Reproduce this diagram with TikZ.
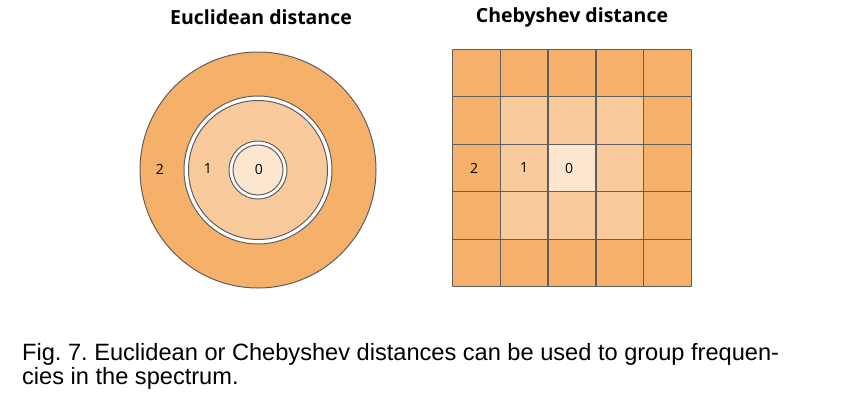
\documentclass[tikz,border=0pt]{standalone}
\usepackage{fontspec}
\setmainfont{Liberation Sans}
\newfontfamily\numfont{Open Sans}
\usetikzlibrary{positioning}

\definecolor{ring0}{HTML}{FCE6D0}
\definecolor{ring1}{HTML}{F8CA9C}
\definecolor{ring2}{HTML}{F5B06A}
\definecolor{rimgray}{HTML}{5E5E5E}

\begin{document}
\frenchspacing
\begin{tikzpicture}[x=1pt, y=-1pt,
    disc/.style = {shape=circle, draw=rimgray, line width=1pt,
      inner sep=0pt},
    cell/.style = {shape=rectangle, draw=rimgray, line width=1.2pt,
      inner sep=0pt, minimum width=47.9pt, minimum height=47.5pt},
    num/.style = {font=\numfont\fontsize{14}{16}\selectfont},
    title/.style = {font=\numfont\bfseries\fontsize{19.5}{22}\selectfont},
    caption/.style = {font=\fontsize{23.6}{27}\selectfont, inner sep=0pt,
      anchor=base west}]
  \useasboundingbox (0,0) rectangle (860,407);

  % euclidean rings
  \node[disc, fill=ring2, minimum size=236pt] (outer) at (258,170) {};
  \node[disc, fill=white, minimum size=148pt] (midrim) at (outer.center) {};
  \node[disc, fill=ring1, minimum size=139pt] (mid) at (outer.center) {};
  \node[disc, fill=white, minimum size=58pt] (innerrim) at (outer.center) {};
  \node[disc, fill=ring0, minimum size=50pt] (inner) at (outer.center) {};
  \node[num] (e2) at (160,169) {2};
  \node[num] (e1) at (208,169) {1};
  \node[num] (e0) at (259,169) {0};
  \node[title] (euclid) at (261,17) {Euclidean distance};

  % chebyshev grid
  \foreach \i in {-2,...,2}
    \foreach \j in {-2,...,2}{
      \pgfmathtruncatemacro\d{max(abs(\i),abs(\j))}
      \node[cell, fill=ring\d] (c\i\j) at ({572+47.9*\i},{168+47.5*\j}) {};
    }
  \node[num, xshift=-2pt] (g2) at (c-20) {2};
  \node[num] (g1) at (c-10) {1};
  \node[num, xshift=-3pt] (g0) at (c00) {0};
  \node[title] (cheby) at (572,17) {Chebyshev distance};

  % caption
  \node[caption] (cap1) at (22,360)
    {Fig. 7. Euclidean or Chebyshev distances can be used to group frequen-};
  \node[caption] (cap2) at (22,384) {cies in the spectrum.};
\end{tikzpicture}
\end{document}
